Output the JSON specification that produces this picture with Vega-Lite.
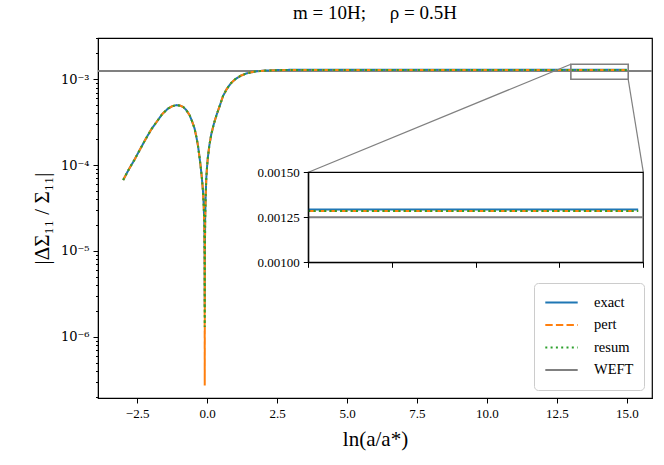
{
  "$schema": "https://vega.github.io/schema/vega-lite/v6.json",
  "width": 554,
  "height": 360,
  "autosize": "none",
  "padding": {"left": 98, "top": 38, "right": 12, "bottom": 67},
  "background": "white",
  "title": {
    "text": "m = 10H;\u00a0\u00a0\u00a0\u00a0 ρ = 0.5H",
    "font": "Liberation Serif",
    "fontSize": 19,
    "fontWeight": "normal",
    "color": "black",
    "offset": 9
  },
  "config": {
    "view": {"stroke": "#000", "strokeWidth": 1.2},
    "axis": {
      "labelFont": "Liberation Serif",
      "titleFont": "Liberation Serif",
      "labelFontSize": 13,
      "labelColor": "#000",
      "titleColor": "#000",
      "titleFontWeight": "normal",
      "domainColor": "#000",
      "tickColor": "#000",
      "grid": false
    },
    "legend": {
      "labelFont": "Liberation Serif",
      "labelFontSize": 14.5,
      "labelColor": "#000"
    }
  },
  "datasets": {
    "curves": [
      {"series": "exact", "x": -3.0, "y": 6.7e-5},
      {"series": "exact", "x": -2.8, "y": 8.9e-5},
      {"series": "exact", "x": -2.6, "y": 1.15e-4},
      {"series": "exact", "x": -2.4, "y": 1.52e-4},
      {"series": "exact", "x": -2.2, "y": 2.0e-4},
      {"series": "exact", "x": -2.0, "y": 2.6e-4},
      {"series": "exact", "x": -1.8, "y": 3.2e-4},
      {"series": "exact", "x": -1.6, "y": 3.95e-4},
      {"series": "exact", "x": -1.4, "y": 4.55e-4},
      {"series": "exact", "x": -1.25, "y": 4.85e-4},
      {"series": "exact", "x": -1.1, "y": 5.0e-4},
      {"series": "exact", "x": -0.95, "y": 4.92e-4},
      {"series": "exact", "x": -0.85, "y": 4.75e-4},
      {"series": "exact", "x": -0.75, "y": 4.4e-4},
      {"series": "exact", "x": -0.63, "y": 3.84e-4},
      {"series": "exact", "x": -0.54, "y": 3.25e-4},
      {"series": "exact", "x": -0.45, "y": 2.68e-4},
      {"series": "exact", "x": -0.38, "y": 2.1e-4},
      {"series": "exact", "x": -0.33, "y": 1.71e-4},
      {"series": "exact", "x": -0.28, "y": 1.3e-4},
      {"series": "exact", "x": -0.23, "y": 9.6e-5},
      {"series": "exact", "x": -0.19, "y": 7.2e-5},
      {"series": "exact", "x": -0.15, "y": 5.1e-5},
      {"series": "exact", "x": -0.12, "y": 3.3e-5},
      {"series": "exact", "x": -0.1, "y": 2.0e-5},
      {"series": "exact", "x": -0.09, "y": 8e-6},
      {"series": "exact", "x": -0.085, "y": 2.2e-6},
      {"series": "exact", "x": -0.08, "y": 8e-6},
      {"series": "exact", "x": -0.07, "y": 2.4e-5},
      {"series": "exact", "x": -0.05, "y": 4.5e-5},
      {"series": "exact", "x": -0.03, "y": 7.0e-5},
      {"series": "exact", "x": 0.0, "y": 9.8e-5},
      {"series": "exact", "x": 0.03, "y": 1.26e-4},
      {"series": "exact", "x": 0.08, "y": 1.7e-4},
      {"series": "exact", "x": 0.15, "y": 2.3e-4},
      {"series": "exact", "x": 0.25, "y": 3.1e-4},
      {"series": "exact", "x": 0.35, "y": 3.95e-4},
      {"series": "exact", "x": 0.45, "y": 4.9e-4},
      {"series": "exact", "x": 0.57, "y": 6.4e-4},
      {"series": "exact", "x": 0.7, "y": 7.7e-4},
      {"series": "exact", "x": 0.85, "y": 9.0e-4},
      {"series": "exact", "x": 1.0, "y": 1.0e-3},
      {"series": "exact", "x": 1.2, "y": 1.1e-3},
      {"series": "exact", "x": 1.4, "y": 1.17e-3},
      {"series": "exact", "x": 1.7, "y": 1.23e-3},
      {"series": "exact", "x": 2.0, "y": 1.262e-3},
      {"series": "exact", "x": 2.5, "y": 1.28e-3},
      {"series": "exact", "x": 3.0, "y": 1.29e-3},
      {"series": "exact", "x": 15.0, "y": 1.294e-3},
      {"series": "pert", "x": -3.0, "y": 6.7e-5},
      {"series": "pert", "x": -2.8, "y": 8.9e-5},
      {"series": "pert", "x": -2.6, "y": 1.15e-4},
      {"series": "pert", "x": -2.4, "y": 1.52e-4},
      {"series": "pert", "x": -2.2, "y": 2.0e-4},
      {"series": "pert", "x": -2.0, "y": 2.6e-4},
      {"series": "pert", "x": -1.8, "y": 3.2e-4},
      {"series": "pert", "x": -1.6, "y": 3.95e-4},
      {"series": "pert", "x": -1.4, "y": 4.55e-4},
      {"series": "pert", "x": -1.25, "y": 4.85e-4},
      {"series": "pert", "x": -1.1, "y": 5.0e-4},
      {"series": "pert", "x": -0.95, "y": 4.92e-4},
      {"series": "pert", "x": -0.85, "y": 4.75e-4},
      {"series": "pert", "x": -0.75, "y": 4.4e-4},
      {"series": "pert", "x": -0.63, "y": 3.84e-4},
      {"series": "pert", "x": -0.54, "y": 3.25e-4},
      {"series": "pert", "x": -0.45, "y": 2.68e-4},
      {"series": "pert", "x": -0.38, "y": 2.1e-4},
      {"series": "pert", "x": -0.33, "y": 1.71e-4},
      {"series": "pert", "x": -0.28, "y": 1.3e-4},
      {"series": "pert", "x": -0.23, "y": 9.6e-5},
      {"series": "pert", "x": -0.19, "y": 7.2e-5},
      {"series": "pert", "x": -0.15, "y": 5.1e-5},
      {"series": "pert", "x": -0.12, "y": 3.3e-5},
      {"series": "pert", "x": -0.1, "y": 2.0e-5},
      {"series": "pert", "x": -0.09, "y": 8e-6},
      {"series": "pert", "x": -0.085, "y": 2.7e-7},
      {"series": "pert", "x": -0.08, "y": 8e-6},
      {"series": "pert", "x": -0.07, "y": 2.4e-5},
      {"series": "pert", "x": -0.05, "y": 4.5e-5},
      {"series": "pert", "x": -0.03, "y": 7.0e-5},
      {"series": "pert", "x": 0.0, "y": 9.8e-5},
      {"series": "pert", "x": 0.03, "y": 1.26e-4},
      {"series": "pert", "x": 0.08, "y": 1.7e-4},
      {"series": "pert", "x": 0.15, "y": 2.3e-4},
      {"series": "pert", "x": 0.25, "y": 3.1e-4},
      {"series": "pert", "x": 0.35, "y": 3.95e-4},
      {"series": "pert", "x": 0.45, "y": 4.9e-4},
      {"series": "pert", "x": 0.57, "y": 6.4e-4},
      {"series": "pert", "x": 0.7, "y": 7.7e-4},
      {"series": "pert", "x": 0.85, "y": 9.0e-4},
      {"series": "pert", "x": 1.0, "y": 1.0e-3},
      {"series": "pert", "x": 1.2, "y": 1.1e-3},
      {"series": "pert", "x": 1.4, "y": 1.17e-3},
      {"series": "pert", "x": 1.7, "y": 1.23e-3},
      {"series": "pert", "x": 2.0, "y": 1.26e-3},
      {"series": "pert", "x": 2.5, "y": 1.277e-3},
      {"series": "pert", "x": 3.0, "y": 1.284e-3},
      {"series": "pert", "x": 15.0, "y": 1.285e-3},
      {"series": "resum", "x": -3.0, "y": 6.7e-5},
      {"series": "resum", "x": -2.8, "y": 8.9e-5},
      {"series": "resum", "x": -2.6, "y": 1.15e-4},
      {"series": "resum", "x": -2.4, "y": 1.52e-4},
      {"series": "resum", "x": -2.2, "y": 2.0e-4},
      {"series": "resum", "x": -2.0, "y": 2.6e-4},
      {"series": "resum", "x": -1.8, "y": 3.2e-4},
      {"series": "resum", "x": -1.6, "y": 3.95e-4},
      {"series": "resum", "x": -1.4, "y": 4.55e-4},
      {"series": "resum", "x": -1.25, "y": 4.85e-4},
      {"series": "resum", "x": -1.1, "y": 5.0e-4},
      {"series": "resum", "x": -0.95, "y": 4.92e-4},
      {"series": "resum", "x": -0.85, "y": 4.75e-4},
      {"series": "resum", "x": -0.75, "y": 4.4e-4},
      {"series": "resum", "x": -0.63, "y": 3.84e-4},
      {"series": "resum", "x": -0.54, "y": 3.25e-4},
      {"series": "resum", "x": -0.45, "y": 2.68e-4},
      {"series": "resum", "x": -0.38, "y": 2.1e-4},
      {"series": "resum", "x": -0.33, "y": 1.71e-4},
      {"series": "resum", "x": -0.28, "y": 1.3e-4},
      {"series": "resum", "x": -0.23, "y": 9.6e-5},
      {"series": "resum", "x": -0.19, "y": 7.2e-5},
      {"series": "resum", "x": -0.15, "y": 5.1e-5},
      {"series": "resum", "x": -0.12, "y": 3.3e-5},
      {"series": "resum", "x": -0.1, "y": 2.0e-5},
      {"series": "resum", "x": -0.09, "y": 8e-6},
      {"series": "resum", "x": -0.085, "y": 1.3e-6},
      {"series": "resum", "x": -0.08, "y": 8e-6},
      {"series": "resum", "x": -0.07, "y": 2.4e-5},
      {"series": "resum", "x": -0.05, "y": 4.5e-5},
      {"series": "resum", "x": -0.03, "y": 7.0e-5},
      {"series": "resum", "x": 0.0, "y": 9.8e-5},
      {"series": "resum", "x": 0.03, "y": 1.26e-4},
      {"series": "resum", "x": 0.08, "y": 1.7e-4},
      {"series": "resum", "x": 0.15, "y": 2.3e-4},
      {"series": "resum", "x": 0.25, "y": 3.1e-4},
      {"series": "resum", "x": 0.35, "y": 3.95e-4},
      {"series": "resum", "x": 0.45, "y": 4.9e-4},
      {"series": "resum", "x": 0.57, "y": 6.4e-4},
      {"series": "resum", "x": 0.7, "y": 7.7e-4},
      {"series": "resum", "x": 0.85, "y": 9.0e-4},
      {"series": "resum", "x": 1.0, "y": 1.0e-3},
      {"series": "resum", "x": 1.2, "y": 1.1e-3},
      {"series": "resum", "x": 1.4, "y": 1.17e-3},
      {"series": "resum", "x": 1.7, "y": 1.23e-3},
      {"series": "resum", "x": 2.0, "y": 1.26e-3},
      {"series": "resum", "x": 2.5, "y": 1.277e-3},
      {"series": "resum", "x": 3.0, "y": 1.284e-3},
      {"series": "resum", "x": 15.0, "y": 1.285e-3}
    ],
    "weft": [{"series": "WEFT", "y": 0.00125, "x": 13, "x2": 15}],
    "zoombox": [{"x": 13, "x2": 15.05, "y": 0.001, "y2": 0.0015}],
    "links": [
      {"x": 13, "y": 0.0015, "x2": 3.62, "y2": 8.24e-5},
      {"x": 15.05, "y": 0.001, "x2": 15.59, "y2": 8.24e-5}
    ],
    "inset": [
      {"series": "exact", "x": 13, "y": 0.001294},
      {"series": "exact", "x": 14.97, "y": 0.001294},
      {"series": "pert", "x": 13, "y": 0.001285},
      {"series": "pert", "x": 14.97, "y": 0.001285},
      {"series": "resum", "x": 13, "y": 0.001285},
      {"series": "resum", "x": 14.97, "y": 0.001285}
    ],
    "insetframe": [{"x": 13, "x2": 15, "y": 0.001, "y2": 0.0015}]
  },
  "layer": [
    {
      "layer": [
        {
          "data": {"name": "weft"},
          "mark": {"type": "rule"},
          "encoding": {
            "y": {
              "field": "y",
              "type": "quantitative",
              "scale": {"type": "log", "domain": [1.93e-7, 3.03e-3], "nice": false, "zero": false},
              "axis": {
                "title": "|ΔΣ₁₁ / Σ₁₁|",
                "titleFontSize": 21,
                "titlePadding": 8,
                "values": [2e-7, 3e-7, 4e-7, 5e-7, 6e-7, 7e-7, 8e-7, 9e-7, 1e-6, 2e-6, 3e-6, 4e-6, 5e-6, 6e-6, 7e-6, 8e-6, 9e-6, 1e-5, 2e-5, 3e-5, 4e-5, 5e-5, 6e-5, 7e-5, 8e-5, 9e-5, 1e-4, 2e-4, 3e-4, 4e-4, 5e-4, 6e-4, 7e-4, 8e-4, 9e-4, 1e-3, 2e-3, 3e-3],
                "labelOverlap": false,
                "labelFont": "DejaVu Serif",
                "labelFontSize": 13,
                "labelExpr": "abs(log(datum.value)/LN10 - round(log(datum.value)/LN10)) > 0.01 ? '' : (round(log(datum.value)/LN10) == -3 ? '10⁻³' : round(log(datum.value)/LN10) == -4 ? '10⁻⁴' : round(log(datum.value)/LN10) == -5 ? '10⁻⁵' : '10⁻⁶')",
                "tickSize": {"condition": {"test": "abs(log(datum.value)/LN10 - round(log(datum.value)/LN10)) > 0.01", "value": 2.5}, "value": 5},
                "labelPadding": 4
              }
            },
            "color": {
              "field": "series",
              "type": "nominal",
              "scale": {"domain": ["exact", "pert", "resum", "WEFT"], "range": ["#1f77b4", "#ff7f0e", "#2ca02c", "#808080"]},
              "legend": {
                "title": null,
                "orient": "bottom-right",
                "offset": 8,
                "symbolType": "stroke",
                "symbolSize": 1050,
                "clipHeight": 19,
                "fillColor": "white",
                "strokeColor": "#cccccc",
                "cornerRadius": 4,
                "padding": 10,
                "rowPadding": 3.5,
                "labelOffset": 15
              }
            },
            "strokeDash": {
              "field": "series",
              "type": "nominal",
              "scale": {"domain": ["exact", "pert", "resum", "WEFT"], "range": [[1, 0], [7.4, 3.2], [2, 3.3], [1, 0]]},
              "legend": null
            },
            "strokeWidth": {
              "field": "series",
              "type": "nominal",
              "scale": {"domain": ["exact", "pert", "resum", "WEFT"], "range": [2, 2, 2, 1]},
              "legend": null
            }
          }
        },
        {
          "data": {"name": "curves"},
          "mark": {"type": "line"},
          "encoding": {
            "x": {
              "field": "x",
              "type": "quantitative",
              "scale": {"domain": [-3.9, 15.9], "nice": false, "zero": false},
              "axis": {
                "title": "ln(a/a*)",
                "titleFontSize": 21,
                "titlePadding": 8,
                "values": [-2.5, 0, 2.5, 5, 7.5, 10, 12.5, 15],
                "format": ".1f",
                "tickSize": 5,
                "labelPadding": 4
              }
            },
            "y": {"field": "y", "type": "quantitative"},
            "color": {"field": "series", "type": "nominal"},
            "strokeDash": {"field": "series", "type": "nominal"},
            "strokeWidth": {"field": "series", "type": "nominal"}
          }
        },
        {
          "data": {"name": "zoombox"},
          "mark": {"type": "rect", "fill": null, "fillOpacity": 0, "stroke": "#808080", "strokeWidth": 1.6},
          "encoding": {
            "x": {"field": "x", "type": "quantitative"},
            "x2": {"field": "x2"},
            "y": {"field": "y", "type": "quantitative"},
            "y2": {"field": "y2"}
          }
        },
        {
          "data": {"name": "links"},
          "mark": {"type": "rule", "stroke": "#808080", "strokeWidth": 1.2},
          "encoding": {
            "x": {"field": "x", "type": "quantitative"},
            "x2": {"field": "x2"},
            "y": {"field": "y", "type": "quantitative"},
            "y2": {"field": "y2"}
          }
        }
      ]
    },
    {
      "layer": [
        {
          "data": {"name": "insetframe"},
          "mark": {"type": "rect", "fill": "white", "stroke": "#000", "strokeWidth": 1.2},
          "encoding": {
            "x": {
              "field": "x",
              "type": "quantitative",
              "scale": {"domain": [13, 15], "range": [210.3, 545.2], "nice": false, "zero": false},
              "axis": {
                "orient": "bottom",
                "offset": -135.7,
                "title": null,
                "values": [13, 13.5, 14, 14.5, 15],
                "labels": false,
                "tickSize": 5,
                "zindex": 1
              }
            },
            "x2": {"field": "x2"},
            "y": {
              "field": "y",
              "type": "quantitative",
              "scale": {"domain": [0.001, 0.0015], "range": [224.3, 134.3], "nice": false, "zero": false},
              "axis": {
                "orient": "left",
                "offset": -210.3,
                "title": null,
                "values": [0.001, 0.00125, 0.0015],
                "format": ".5f",
                "tickSize": 5,
                "labelPadding": 4,
                "zindex": 1
              }
            },
            "y2": {"field": "y2"}
          }
        },
        {
          "data": {"name": "weft"},
          "mark": {"type": "rule"},
          "encoding": {
            "x": {"field": "x", "type": "quantitative"},
            "x2": {"field": "x2"},
            "y": {"field": "y", "type": "quantitative"},
            "color": {"field": "series", "type": "nominal"},
            "strokeDash": {"field": "series", "type": "nominal"},
            "strokeWidth": {"field": "series", "type": "nominal"}
          }
        },
        {
          "data": {"name": "inset"},
          "mark": {"type": "line"},
          "encoding": {
            "x": {"field": "x", "type": "quantitative"},
            "y": {"field": "y", "type": "quantitative"},
            "color": {"field": "series", "type": "nominal"},
            "strokeDash": {"field": "series", "type": "nominal"},
            "strokeWidth": {"field": "series", "type": "nominal"}
          }
        }
      ]
    }
  ],
  "resolve": {"scale": {"x": "independent", "y": "independent"}}
}
